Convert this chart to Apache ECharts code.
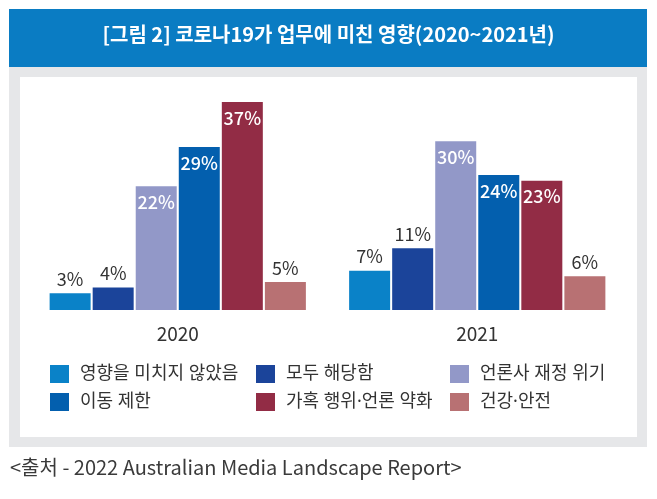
<!DOCTYPE html>
<html><head><meta charset="utf-8">
<script src="https://cdn.jsdelivr.net/npm/echarts@6/dist/echarts.min.js"></script>
<style>html,body{margin:0;padding:0;background:#fff;}#c{width:657px;height:499px;}</style>
</head><body><div id="c"></div>
<script>
const titleText = '[그림 2] 코로나19가 업무에 미친 영향(2020~2021년)';
const sourceText = '<출처 - 2022 Australian Media Landscape Report>';
const categories = ['2020', '2021'];
const seriesNames = ['영향을 미치지 않았음', '모두 해당함', '언론사 재정 위기', '이동 제한', '가혹 행위·언론 약화', '건강·안전'];
const noImpact = [3, 7];
const allApply = [4, 11];
const financialCrisis = [22, 30];
const movementLimit = [29, 24];
const harassment = [37, 23];
const healthSafety = [5, 6];
const seriesValues = [noImpact, allApply, financialCrisis, movementLimit, harassment, healthSafety];
const colors = ['#0a82c8', '#1b449a', '#9298c8', '#035fae', '#922c45', '#b87173'];

const FONT = '"Noto Sans CJK KR", "Noto Sans", sans-serif';
const LEGEND_FONT = '"Noto Sans", "Noto Sans CJK KR", sans-serif';
const chart = echarts.init(document.getElementById('c'), null, {renderer: 'canvas'});

const series = seriesNames.map((name, i) => ({
  name: name,
  type: 'bar',
  barWidth: 41,
  barGap: '5%',
  itemStyle: {color: colors[i]},
  data: seriesValues[i].map(v => ({
    value: v,
    label: v >= 20
      ? {show: true, position: 'insideTop', distance: 7, color: '#fff', fontSize: 18, fontWeight: 500, fontFamily: FONT, formatter: '{c}%'}
      : {show: true, position: 'top', distance: 5, color: '#333', fontSize: 18, fontFamily: FONT, formatter: '{c}%'}
  }))
}));

const legendCommon = {
  orient: 'vertical', icon: 'rect', itemWidth: 19, itemHeight: 18, itemGap: 10,
  padding: 0, selectedMode: false,
  textStyle: {fontSize: 18, color: '#333', fontFamily: LEGEND_FONT, padding: [0, 0, 0, 6]}
};

chart.setOption({
  animation: false,
  textStyle: {fontFamily: FONT},
  graphic: [
    {type: 'rect', shape: {x: 9, y: 67, width: 638, height: 380}, style: {fill: '#e6e7e9'}, z: -10},
    {type: 'rect', shape: {x: 20, y: 77, width: 617, height: 360}, style: {fill: '#ffffff'}, z: -9},
    {type: 'rect', shape: {x: 9, y: 9, width: 638, height: 58}, style: {fill: '#0a7cc3'}, z: -8},
    {type: 'text', left: 'center', top: 24, style: {text: titleText, fill: '#fff', font: 'bold 20px ' + FONT}, z: 10},
    {type: 'text', left: 10, top: 457, style: {text: sourceText, fill: '#3a3a3a', font: '20px ' + FONT}, z: 10}
  ],
  grid: {left: 28, right: 30, top: 85, bottom: 189, containLabel: false},
  xAxis: {
    type: 'category', data: categories,
    axisLine: {show: false}, axisTick: {show: false},
    axisLabel: {fontSize: 19, color: '#333', margin: 14, fontFamily: FONT}
  },
  yAxis: {type: 'value', min: 0, max: 40, show: false, splitLine: {show: false}},
  legend: [
    Object.assign({left: 50, top: 365, data: [seriesNames[0], seriesNames[3]]}, legendCommon),
    Object.assign({left: 256, top: 365, data: [seriesNames[1], seriesNames[4]]}, legendCommon),
    Object.assign({left: 450, top: 365, data: [seriesNames[2], seriesNames[5]]}, legendCommon)
  ],
  series: series
});
</script></body></html>
